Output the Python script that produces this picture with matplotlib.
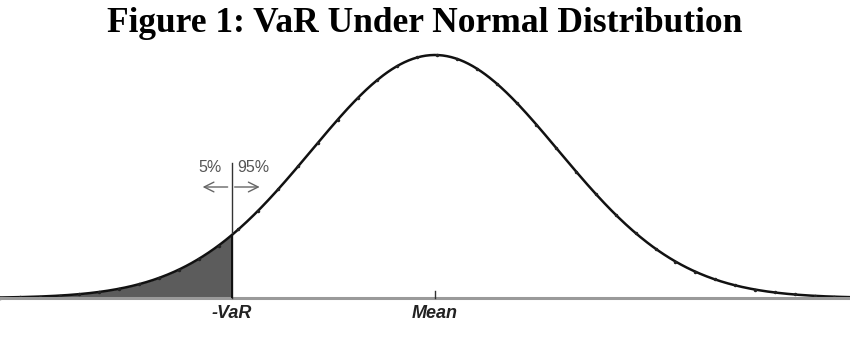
import numpy as np
import matplotlib
matplotlib.use("Agg")
import matplotlib.pyplot as plt

# ── Data ─────────────────────────────────────────────
title = "Figure 1: VaR Under Normal Distribution"
mean = 0.0
sigma = 1.0
var_z = -1.645           # 5% left tail cutoff
x_range = [-3.52, 3.36]  # visible span in sigmas
tick_labels = ["-VaR", "Mean"]
tail_labels = ["5%", "95%"]

x = np.linspace(x_range[0], x_range[1], 600)
pdf = np.exp(-0.5 * ((x - mean) / sigma) ** 2) / (sigma * np.sqrt(2 * np.pi))
peak = pdf.max()

fig = plt.figure(figsize=(8.5, 3.42), dpi=100)
ax = fig.add_axes([0, 44 / 342, 1, (298 - 55) / 342])
ax.set_xlim(x_range)
ax.set_ylim(0, peak)
ax.axis("off")

# shaded tail
mask = x <= var_z
ax.fill_between(x[mask], 0, pdf[mask], color="#5c5c5c", lw=0)
# curve with small dot markers
ax.plot(x, pdf, color="#111111", lw=1.8, clip_on=False)
ax.plot(x[::14], pdf[::14], ls="none", marker="o", ms=1.5, color="#222222",
        clip_on=False)

# baseline
ax.axhline(0, color="#9a9a9a", lw=2.2, clip_on=False)
# mean tick
ax.plot([mean, mean], [0, 0.012], color="#333333", lw=1, clip_on=False)

# VaR cutoff line
v_top = peak * (298 - 163) / 243
ax.plot([var_z, var_z], [0, v_top], color="#333333", lw=1, clip_on=False)
var_h = np.exp(-0.5 * var_z ** 2) / np.sqrt(2 * np.pi)
ax.plot([var_z, var_z], [0, var_h], color="#111111", lw=1.4)

# tail percentages and arrows
px = 1 / 123.4  # one pixel in sigma units
y_txt = peak * (298 - 168) / 243
y_arr = peak * (298 - 187) / 243
ax.text(var_z - 22 * px, y_txt, tail_labels[0], ha="center", va="center",
        fontsize=11.5, color="#555555", family="Liberation Sans")
ax.text(var_z + 22 * px, y_txt, tail_labels[1], ha="center", va="center",
        fontsize=11.5, color="#555555", family="Liberation Sans")
arrow = dict(arrowstyle="->,head_length=0.7,head_width=0.35",
             color="#666666", lw=1.0, shrinkA=0, shrinkB=0)
ax.annotate("", xy=(var_z - 29 * px, y_arr), xytext=(var_z - 4 * px, y_arr),
            arrowprops=arrow)
ax.annotate("", xy=(var_z + 28 * px, y_arr), xytext=(var_z + 3 * px, y_arr),
            arrowprops=arrow)

# axis labels under the baseline
y_lab = -peak * (313 - 298) / 243
for pos, lab in zip([var_z, mean], tick_labels):
    ax.text(pos, y_lab, lab, ha="center", va="center", fontsize=13,
            fontweight="bold", fontstyle="italic", color="#222222",
            family="Liberation Sans")

fig.text(0.5, 1 - 32 / 342, title, ha="center", va="baseline",
         fontsize=25.5, fontweight="bold", family="Liberation Serif")

fig.savefig("out.png", dpi=100)
